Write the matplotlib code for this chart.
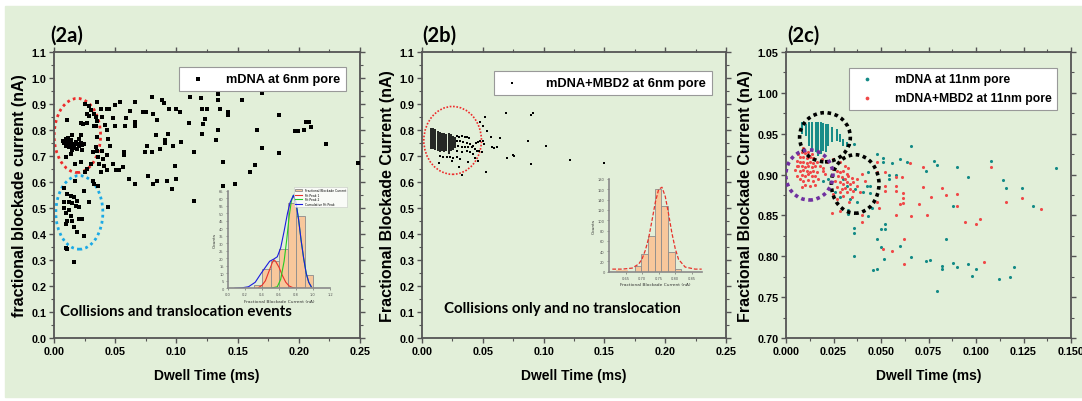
import matplotlib
matplotlib.use("Agg")
import matplotlib.pyplot as plt
from matplotlib.patches import Rectangle, Ellipse
from matplotlib.ticker import AutoMinorLocator

# ---------------- panel (2a): mDNA at 6nm pore ----------------
a_x = [0.0109, 0.0218, 0.0240, 0.0267, 0.0272, 0.0286, 0.0327, 0.0340, 0.0349, 0.0327, 0.0150, 0.0223,
       0.0076, 0.0095, 0.0123, 0.0109, 0.0136, 0.0150, 0.0177, 0.0191, 0.0204, 0.0218, 0.0231, 0.0245,
       0.0123, 0.0163, 0.0191, 0.0136, 0.0095, 0.0231, 0.0340, 0.0349, 0.0321, 0.0169, 0.0223, 0.0300,
       0.0272, 0.0251, 0.0349, 0.0286, 0.0251, 0.0305, 0.0340, 0.0354, 0.0359, 0.0368,
       0.0082, 0.0103, 0.0118, 0.0140, 0.0160, 0.0100, 0.0150, 0.0205,
       0.0082, 0.0103, 0.0136, 0.0163, 0.0082, 0.0123, 0.0150, 0.0191, 0.0177, 0.0123, 0.0204, 0.0136,
       0.0109, 0.0150, 0.0204, 0.0231, 0.0095, 0.0163, 0.0191, 0.0245, 0.0169, 0.0245, 0.0286, 0.0095,
       0.0109, 0.0163, 0.0321, 0.0327, 0.0082, 0.0095,
       0.035, 0.038, 0.043, 0.045, 0.050, 0.054, 0.039, 0.042, 0.043, 0.050, 0.048, 0.058, 0.059,
       0.062, 0.066, 0.066, 0.066, 0.073, 0.075, 0.080, 0.081, 0.084, 0.088, 0.090, 0.094, 0.100,
       0.103, 0.111, 0.110, 0.120, 0.121, 0.122, 0.125, 0.123, 0.121, 0.134, 0.134, 0.136, 0.142,
       0.142, 0.154, 0.170, 0.184, 0.166, 0.197, 0.199, 0.204, 0.206, 0.208, 0.210, 0.222, 0.248,
       0.170, 0.184, 0.164, 0.160, 0.138, 0.138, 0.148, 0.132, 0.134, 0.114, 0.114, 0.104, 0.097,
       0.099, 0.100, 0.096, 0.092, 0.093, 0.091, 0.091, 0.087, 0.084, 0.081, 0.077, 0.076, 0.074,
       0.080, 0.083, 0.066, 0.061, 0.057, 0.057, 0.056, 0.051, 0.053, 0.048, 0.046, 0.044, 0.043,
       0.040, 0.043, 0.038, 0.036, 0.044, 0.039, 0.041]
a_y = [0.838, 0.826, 0.823, 0.826, 0.862, 0.855, 0.862, 0.849, 0.836, 0.817, 0.782, 0.782,
       0.759, 0.765, 0.756, 0.746, 0.749, 0.740, 0.753, 0.746, 0.765, 0.749, 0.744, 0.746,
       0.733, 0.731, 0.727, 0.708, 0.697, 0.723, 0.733, 0.720, 0.714, 0.669, 0.676, 0.669,
       0.650, 0.637, 0.906, 0.894, 0.900, 0.877, 0.817, 0.772, 0.695, 0.669,
       0.750, 0.752, 0.770, 0.760, 0.745, 0.740, 0.725, 0.738,
       0.577, 0.554, 0.547, 0.541, 0.522, 0.522, 0.518, 0.526, 0.509, 0.492, 0.505, 0.471,
       0.451, 0.449, 0.458, 0.458, 0.438, 0.428, 0.406, 0.394, 0.605, 0.564, 0.522, 0.345,
       0.342, 0.293, 0.605, 0.592, 0.500, 0.480,
       0.907, 0.880, 0.880, 0.880, 0.895, 0.907, 0.849, 0.818, 0.800, 0.815, 0.845, 0.815, 0.845,
       0.875, 0.907, 0.830, 0.815, 0.870, 0.870, 0.926, 0.860, 0.837, 0.914, 0.905, 0.880, 0.880,
       0.870, 0.926, 0.828, 0.924, 0.882, 0.824, 0.882, 0.843, 0.785, 0.940, 0.914, 0.882, 0.870,
       0.858, 0.916, 0.942, 0.859, 0.800, 0.795, 0.797, 0.800, 0.830, 0.832, 0.810, 0.748, 0.672,
       0.730, 0.712, 0.666, 0.637, 0.676, 0.586, 0.592, 0.760, 0.800, 0.715, 0.528, 0.753, 0.740,
       0.663, 0.612, 0.573, 0.605, 0.785, 0.760, 0.750, 0.727, 0.605, 0.593, 0.625, 0.740, 0.715,
       0.715, 0.780, 0.593, 0.612, 0.715, 0.705, 0.657, 0.645, 0.645, 0.670, 0.740, 0.766, 0.703,
       0.690, 0.645, 0.637, 0.586, 0.503, 0.720, 0.660]

# inset (2a): histogram of fractional blockade current with peak fits
ha_edges = [0.3, 0.4, 0.5, 0.6, 0.7, 0.8, 0.9, 1.0]
ha_counts = [2, 13, 18, 26, 57, 48, 9]
fa1_x = [0.36, 0.40, 0.44, 0.48, 0.52, 0.54, 0.56, 0.60, 0.64, 0.68, 0.72, 0.76, 0.80, 0.90]
fa1_y = [0.5, 2, 5, 11, 17, 19, 18, 14, 8.5, 4, 1.5, 0.5, 0, 0]
fa2_x = [0.40, 0.50, 0.58, 0.62, 0.66, 0.69, 0.72, 0.745, 0.77, 0.80, 0.83, 0.86, 0.89, 0.92, 0.95, 0.98]
fa2_y = [0, 0, 1, 6, 18, 32, 48, 58, 62, 57, 46, 32, 20, 10, 4, 1]
fac_x = [0.08, 0.16, 0.24, 0.32, 0.39, 0.44, 0.49, 0.54, 0.58, 0.62, 0.66, 0.70, 0.73, 0.77, 0.80, 0.83, 0.86, 0.89, 0.92, 0.95, 0.98]
fac_y = [0, 0.3, 1, 4, 10, 14, 18, 19.5, 21, 27, 38, 50, 57, 62, 57, 46, 32, 20, 10, 4, 1]

# ---------------- panel (2b): mDNA+MBD2 at 6nm pore ----------------
b_band_x = [0.0075, 0.0093, 0.0111, 0.0129, 0.0147, 0.0165, 0.0183, 0.0201, 0.0219, 0.0237, 0.0255, 0.0273]
b_band_top = [0.808, 0.806, 0.804, 0.797, 0.791, 0.790, 0.787, 0.785, 0.787, 0.785, 0.778, 0.772]
b_band_bot = [0.727, 0.727, 0.724, 0.720, 0.714, 0.720, 0.714, 0.720, 0.708, 0.720, 0.722, 0.730]
b_x = [0.0285, 0.0307, 0.0326, 0.0354, 0.0367, 0.0389, 0.0285, 0.0312, 0.0340, 0.0367, 0.0395,
       0.0299, 0.0326, 0.0354, 0.0381, 0.0408, 0.0422, 0.0436, 0.0290, 0.0326, 0.0367, 0.0395,
       0.0422, 0.0449, 0.0148, 0.0175, 0.0203, 0.0230, 0.0258, 0.0285, 0.0312, 0.0143, 0.0244,
       0.0307, 0.0326, 0.0381, 0.0436, 0.0463, 0.0444, 0.0463, 0.0477, 0.0471, 0.0490, 0.0518,
       0.0477, 0.0499, 0.0532, 0.0564, 0.0641, 0.0573, 0.0592, 0.0619, 0.0499, 0.0512, 0.0688,
       0.0702, 0.0745, 0.0759, 0.0523, 0.091, 0.0893, 0.087, 0.102, 0.090, 0.1216, 0.150]
b_y = [0.778, 0.774, 0.778, 0.772, 0.775, 0.769, 0.759, 0.756, 0.753, 0.749, 0.746,
       0.740, 0.736, 0.733, 0.736, 0.733, 0.740, 0.727, 0.720, 0.714, 0.718, 0.714,
       0.708, 0.720, 0.701, 0.697, 0.695, 0.697, 0.692, 0.695, 0.688, 0.672, 0.679,
       0.659, 0.628, 0.676, 0.692, 0.682, 0.749, 0.753, 0.756, 0.720, 0.714, 0.849,
       0.829, 0.817, 0.797, 0.774, 0.769, 0.736, 0.731, 0.733, 0.759, 0.746, 0.864,
       0.692, 0.705, 0.701, 0.637, 0.866, 0.857, 0.756, 0.739, 0.671, 0.684, 0.675]

# inset (2b)
hb_edges = [0.678, 0.698, 0.718, 0.738, 0.758, 0.778, 0.798, 0.818]
hb_counts = [11, 34, 70, 160, 128, 39, 5]
hb_low_edges = [0.62, 0.658]
hb_low_counts = [3]
fb_x = [0.61, 0.64, 0.67, 0.69, 0.70, 0.71, 0.72, 0.73, 0.74, 0.75, 0.76, 0.77, 0.78, 0.79, 0.80, 0.81, 0.83, 0.86, 0.88]
fb_y = [5, 5, 7, 15, 25, 42, 66, 100, 135, 160, 164, 146, 112, 75, 45, 24, 9, 5, 5]

# ---------------- panel (2c): 11nm pore ----------------
c_col_x = [0.0084, 0.0105, 0.0121, 0.0139, 0.0156, 0.0170, 0.0184, 0.0196, 0.0209, 0.0223, 0.0244, 0.0270, 0.0284, 0.0302, 0.0319, 0.0337]
c_col_top = [0.9639, 0.9619, 0.9639, 0.9639, 0.9648, 0.9648, 0.9639, 0.9631, 0.9619, 0.9619, 0.9578, 0.9558, 0.9496, 0.9435, 0.9394, 0.9374]
c_col_bot = [0.9496, 0.9476, 0.9354, 0.9313, 0.9272, 0.9231, 0.9252, 0.9292, 0.9272, 0.9354, 0.9394, 0.9415, 0.9394, 0.9354, 0.9333, 0.9354]
teal_x = [0.0223, 0.0258, 0.0284, 0.0302, 0.0319, 0.0363, 0.0407, 0.0337, 0.0372, 0.0424, 0.0433, 0.0196, 0.0179,
          0.0657, 0.036, 0.0478, 0.0513, 0.0513, 0.056, 0.060, 0.0636, 0.078, 0.0797, 0.0738, 0.090, 0.0957,
          0.108, 0.114, 0.116, 0.124, 0.130, 0.142, 0.0878, 0.0843, 0.0478, 0.050, 0.052, 0.052, 0.036, 0.036,
          0.036, 0.050, 0.0518, 0.046, 0.048, 0.060, 0.0657, 0.0738, 0.076, 0.082, 0.082, 0.0878, 0.090, 0.0957,
          0.098, 0.100, 0.112, 0.118, 0.120, 0.0797, 0.058, 0.054, 0.054, 0.044, 0.044, 0.0327, 0.0327, 0.0434, 0.045]
teal_y = [0.8946, 0.8783, 0.8721, 0.8946, 0.8864, 0.8823, 0.8783, 0.8701, 0.8660, 0.8864, 0.9027, 0.8926, 0.9280,
          0.9355, 0.937, 0.925, 0.920, 0.915, 0.914, 0.919, 0.915, 0.917, 0.912, 0.904, 0.909, 0.897,
          0.917, 0.893, 0.884, 0.883, 0.862, 0.908, 0.862, 0.821, 0.821, 0.834, 0.839, 0.834, 0.835, 0.828,
          0.800, 0.811, 0.797, 0.783, 0.784, 0.812, 0.799, 0.794, 0.796, 0.788, 0.785, 0.792, 0.787, 0.791,
          0.776, 0.785, 0.772, 0.775, 0.787, 0.758, 0.900, 0.900, 0.895, 0.886, 0.878, 0.857, 0.852, 0.849, 0.859]
red_x = [0.0065, 0.0082, 0.0100, 0.0118, 0.0135, 0.0074, 0.0091, 0.0109, 0.0126, 0.0144,
         0.0056, 0.0074, 0.0091, 0.0109, 0.0126, 0.0144, 0.0161, 0.0065, 0.0082, 0.0100, 0.0118, 0.0135,
         0.0153, 0.0179, 0.0074, 0.0091, 0.0109, 0.0126, 0.0144, 0.0161, 0.0196, 0.0082, 0.0100, 0.0118,
         0.0135, 0.0153, 0.0074, 0.0091, 0.0118, 0.0144, 0.0170, 0.0100, 0.0126, 0.0153, 0.0082, 0.0196,
         0.0214, 0.0188, 0.0205, 0.0047, 0.0056, 0.0060, 0.0090,
         0.0249, 0.0267, 0.0284, 0.0302, 0.0319, 0.0275, 0.0293, 0.0310, 0.0328, 0.0345, 0.0258, 0.0284,
         0.0302, 0.0319, 0.0337, 0.0354, 0.0267, 0.0293, 0.0310, 0.0337, 0.0372, 0.0284, 0.0319, 0.0354,
         0.0389, 0.0249, 0.0302, 0.0345, 0.0267, 0.0372, 0.0398, 0.0416, 0.0249, 0.0284, 0.0310, 0.0328,
         0.048, 0.048, 0.052, 0.052, 0.052, 0.058, 0.061, 0.058, 0.058, 0.0617, 0.0617, 0.0617, 0.060,
         0.0653, 0.070, 0.072, 0.072, 0.0762, 0.082, 0.0843, 0.090, 0.090, 0.066, 0.074, 0.058, 0.062,
         0.062, 0.051, 0.056, 0.094, 0.100, 0.102, 0.104, 0.108, 0.116, 0.124, 0.134, 0.040, 0.040,
         0.024, 0.0285, 0.033, 0.0487, 0.048]
red_y = [0.9252, 0.9272, 0.9264, 0.9280, 0.9252, 0.9211, 0.9211, 0.9199, 0.9211, 0.9199,
         0.9170, 0.9150, 0.9158, 0.9142, 0.9150, 0.9142, 0.9158, 0.9109, 0.9101, 0.9089, 0.9109, 0.9089,
         0.9101, 0.9109, 0.9048, 0.9060, 0.9048, 0.9036, 0.9048, 0.9036, 0.9076, 0.8995, 0.8987, 0.9007,
         0.8979, 0.8987, 0.8946, 0.8926, 0.8938, 0.8926, 0.8946, 0.8872, 0.8864, 0.8872, 0.8844, 0.9048,
         0.9150, 0.9191, 0.9007, 0.905, 0.898, 0.910, 0.932,
         0.9068, 0.9048, 0.9027, 0.9048, 0.9007, 0.8987, 0.8966, 0.8946, 0.8979, 0.8954, 0.8926, 0.8905,
         0.8885, 0.8905, 0.8885, 0.8913, 0.8844, 0.8823, 0.8832, 0.8823, 0.8864, 0.8783, 0.8783, 0.8801,
         0.8783, 0.8762, 0.8742, 0.8721, 0.8701, 0.8946, 0.9007, 0.8926, 0.9191, 0.9150, 0.9109, 0.9076,
         0.915, 0.903, 0.903, 0.886, 0.880, 0.897, 0.897, 0.886, 0.880, 0.878, 0.871, 0.865, 0.864,
         0.914, 0.864, 0.885, 0.909, 0.872, 0.884, 0.875, 0.876, 0.861, 0.849, 0.850, 0.850, 0.821,
         0.790, 0.809, 0.807, 0.842, 0.839, 0.846, 0.793, 0.909, 0.866, 0.871, 0.858, 0.842, 0.850,
         0.853, 0.856, 0.867, 0.859, 0.867]

# tick labels of the three main panels
ab_xticks = ["0.00", "0.05", "0.10", "0.15", "0.20", "0.25"]
ab_yticks = ["0.0", "0.1", "0.2", "0.3", "0.4", "0.5", "0.6", "0.7", "0.8", "0.9", "1.0", "1.1"]
c_xticks = ["0.000", "0.025", "0.050", "0.075", "0.100", "0.125", "0.150"]
c_yticks = ["0.70", "0.75", "0.80", "0.85", "0.90", "0.95", "1.00", "1.05"]

green_bg = "#e2efd9"
spine_col = "#555555"
teal = "#138a86"
red = "#f04848"
tick_font = {"family": "Liberation Sans", "weight": "bold", "size": 7.8}
lab_font = {"family": "Liberation Sans", "weight": "bold", "size": 10}
ylab_font = {"family": "Liberation Sans", "weight": "bold", "size": 11.5}

fig = plt.figure(figsize=(10.82, 4.02), dpi=100)
fig.patches.append(Rectangle((5 / 1082, 4 / 402), 1077 / 1082, 391 / 402,
                             transform=fig.transFigure, color=green_bg, zorder=-5))


def style_axes(ax, xlabels, ylabels):
    ax.set_facecolor("none")
    for s in ax.spines.values():
        s.set_color(spine_col)
        s.set_linewidth(1.3)
    ax.set_xticks([float(t) for t in xlabels], xlabels, **tick_font)
    ax.set_yticks([float(t) for t in ylabels], ylabels, **tick_font)
    ax.xaxis.set_minor_locator(AutoMinorLocator(2))
    ax.yaxis.set_minor_locator(AutoMinorLocator(2))
    ax.tick_params(which="both", direction="out", top=True, right=True, color=spine_col,
                   labeltop=False, labelright=False)
    ax.tick_params(which="major", length=3.5, width=1.0, pad=2)
    ax.tick_params(which="minor", length=2, width=0.8)
    ax.set_xlabel("Dwell Time (ms)", fontdict=lab_font, labelpad=9)


def style_inset(ax, xt, yt, xlabel):
    ax.set_facecolor("none")
    ax.spines["top"].set_visible(False)
    ax.spines["right"].set_visible(False)
    for s in ("left", "bottom"):
        ax.spines[s].set_color("#8a8a8a")
        ax.spines[s].set_linewidth(1.2)
    ax.set_xticks(xt)
    ax.set_yticks(yt)
    ax.tick_params(labelsize=2.6, length=1.5, width=0.4, pad=1.5, colors="#555555")
    ax.set_xlabel(xlabel, fontsize=3.2, labelpad=1.5, color="#333333")
    ax.set_ylabel("Counts", fontsize=3.2, labelpad=1.5, color="#333333")


# ---- panel a ----
ax1 = fig.add_axes([54 / 1082, 63 / 402, 306 / 1082, 286 / 402])
ax1.scatter(a_x, a_y, marker="s", s=5, color="black", linewidths=0, label="mDNA at 6nm pore", zorder=3)
style_axes(ax1, ab_xticks, ab_yticks)
ax1.set_xlim(0, 0.25)
ax1.set_ylim(0, 1.1)
ax1.set_ylabel("fractional blockade current (nA)", fontdict=ylab_font, labelpad=3)
ax1.add_patch(Ellipse((0.0191, 0.779), 0.0379, 0.285, fill=False, edgecolor="#ee2a2a",
                      linestyle=(0, (1, 1.2)), linewidth=2))
ax1.add_patch(Ellipse((0.0207, 0.483), 0.0384, 0.283, fill=False, edgecolor="#1ba9e6",
                      linestyle=(0, (1, 1.2)), linewidth=2))
ax1.text(0.0045, 0.104, "Collisions and translocation events", family="Lato", weight="bold",
         fontsize=10.8, va="center", ha="left")
leg1 = ax1.legend(loc="upper right", bbox_to_anchor=(0.974, 0.969), fancybox=False, framealpha=1,
                  edgecolor="#999999", prop={"family": "Liberation Sans", "weight": "bold", "size": 9.2},
                  markerscale=1.3, handletextpad=1.2, borderpad=0.45)
leg1.get_frame().set_linewidth(0.8)
fig.text(50 / 1082, 1 - 36 / 402, "(2a)", family="Lato", weight="bold", fontsize=14.5, va="center")

ia = fig.add_axes([228 / 1082, (402 - 289.3) / 402, 102 / 1082, 97.6 / 402])
h_bar = ia.bar(ha_edges[:-1], ha_counts, width=0.1, align="edge", color="#f8c79b", edgecolor="#8c8c8c",
               linewidth=0.6)
h_f1, = ia.plot(fa1_x, fa1_y, color="#e8322a", lw=0.8)
h_f2, = ia.plot(fa2_x, fa2_y, color="#22cc22", lw=0.8)
h_fc, = ia.plot(fac_x, fac_y, color="#1a1ae0", lw=0.8)
ia.set_xlim(0.0, 1.2)
ia.set_ylim(0, 65)
style_inset(ia, [0.0, 0.2, 0.4, 0.6, 0.8, 1.0, 1.2], list(range(0, 66, 5)),
            "Fractional Blockade Current (nA)")
lg = ia.legend([h_bar, h_f1, h_f2, h_fc],
               ["Fractional Blockade Current", "Fit Peak 1", "Fit Peak 2", "Cumulative Fit Peak"],
               loc="upper right", bbox_to_anchor=(1.18, 1.05), fontsize=2.2, frameon=True,
               fancybox=False, edgecolor="#bbbbbb", handlelength=2.5, borderpad=0.3, labelspacing=0.2)
lg.get_frame().set_linewidth(0.4)

# ---- panel b ----
ax2 = fig.add_axes([422 / 1082, 63 / 402, 304 / 1082, 286 / 402])
ax2.vlines(b_band_x, b_band_bot, b_band_top, colors="black", linewidth=1.2, zorder=3)
ax2.scatter(b_x, b_y, marker="s", s=1.8, color="black", linewidths=0, label="mDNA+MBD2 at 6nm pore", zorder=3)
style_axes(ax2, ab_xticks, ab_yticks)
ax2.set_xlim(0, 0.25)
ax2.set_ylim(0, 1.1)
ax2.set_ylabel("Fractional Blockade Current (nA)", fontdict=ylab_font, labelpad=3)
ax2.add_patch(Ellipse((0.0252, 0.760), 0.0474, 0.261, fill=False, edgecolor="#ee2a2a",
                      linestyle=(0, (1, 1)), linewidth=1.2))
ax2.text(0.018, 0.117, "Collisions only and no translocation", family="Lato", weight="bold",
         fontsize=10.8, va="center", ha="left")
leg2 = ax2.legend(loc="upper right", bbox_to_anchor=(0.974, 0.955), fancybox=False, framealpha=1,
                  edgecolor="#999999", prop={"family": "Liberation Sans", "weight": "bold", "size": 9.3},
                  markerscale=1.5, handletextpad=1.6, borderpad=0.45)
leg2.get_frame().set_linewidth(0.8)
fig.text(422 / 1082, 1 - 36 / 402, "(2b)", family="Lato", weight="bold", fontsize=14.5, va="center")

ib = fig.add_axes([609 / 1082, (402 - 272.7) / 402, 92.7 / 1082, 92.7 / 402])
ib.bar(hb_low_edges[:-1], hb_low_counts, width=0.038, align="edge", color="#f8c79b", linewidth=0)
ib.bar(hb_edges[:-1], hb_counts, width=0.02, align="edge", color="#f8c79b", edgecolor="#8c8c8c",
       linewidth=0.6)
ib.plot(fb_x, fb_y, color="#e8322a", lw=0.9, linestyle=(0, (3, 1.5)))
ib.set_xlim(0.60, 0.88)
ib.set_ylim(0, 180)
style_inset(ib, [0.65, 0.70, 0.75, 0.80, 0.85], list(range(0, 181, 20)),
            "Fractional Blockade Current (nA)")

# ---- panel c ----
ax3 = fig.add_axes([786 / 1082, 63 / 402, 285 / 1082, 286 / 402])
ax3.vlines(c_col_x, c_col_bot, c_col_top, colors=teal, linewidth=1.4, zorder=3)
ax3.scatter(teal_x, teal_y, s=5, color=teal, linewidths=0, label="mDNA at 11nm pore", zorder=3)
ax3.scatter(red_x, red_y, s=5, color=red, linewidths=0, label="mDNA+MBD2 at 11nm pore", zorder=4)
style_axes(ax3, c_xticks, c_yticks)
ax3.set_xlim(0, 0.15)
ax3.set_ylim(0.70, 1.05)
ax3.set_ylabel("Fractional Blockade Current (nA)", fontdict=ylab_font, labelpad=3)
ax3.add_patch(Ellipse((0.0205, 0.9457), 0.0267, 0.0601, fill=False, edgecolor="black",
                      linestyle=(0, (1, 1)), linewidth=2.6, zorder=5))
ax3.add_patch(Ellipse((0.0364, 0.8885), 0.0251, 0.0716, fill=False, edgecolor="black",
                      linestyle=(0, (1, 1)), linewidth=2.6, zorder=5))
ax3.add_patch(Ellipse((0.0123, 0.8995), 0.0248, 0.0613, fill=False, edgecolor="#7030a0",
                      linestyle=(0, (1, 1)), linewidth=2.6, zorder=5))
leg3 = ax3.legend(loc="upper right", bbox_to_anchor=(0.972, 0.965), fancybox=False, framealpha=1,
                  edgecolor="#999999", prop={"family": "Liberation Sans", "weight": "bold", "size": 8.7},
                  markerscale=1.2, handletextpad=1.3, borderpad=0.45, labelspacing=0.55)
leg3.get_frame().set_linewidth(0.8)
fig.text(787 / 1082, 1 - 36 / 402, "(2c)", family="Lato", weight="bold", fontsize=14.5, va="center")

fig.savefig("out.png", dpi=100)
